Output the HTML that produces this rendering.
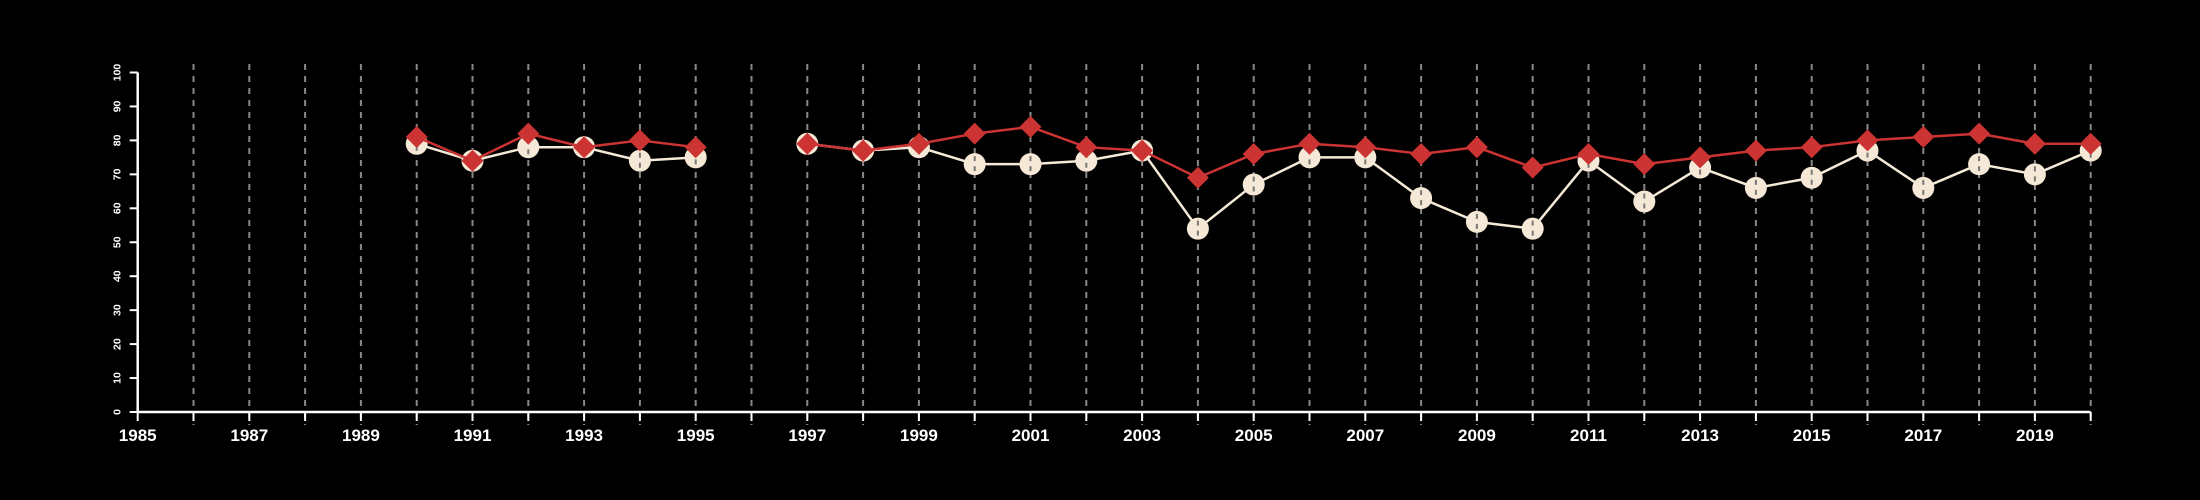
<!DOCTYPE html>
<html><head><meta charset="utf-8"><style>
html,body{margin:0;padding:0;background:#000;}
svg{display:block;font-family:"Liberation Sans",sans-serif;}
</style></head><body>
<svg id="chart" width="2200" height="500" xmlns="http://www.w3.org/2000/svg">
<rect width="2200" height="500" fill="#000"/>
<g id="grid"></g>
<g id="axes"></g>
<g id="series"></g>
</svg>
<script>
const years = [1990,1991,1992,1993,1994,1995,1996,1997,1998,1999,2000,2001,2002,2003,2004,2005,2006,2007,2008,2009,2010,2011,2012,2013,2014,2015,2016,2017,2018,2019,2020];
const whiteSeries = [79,74,78,78,74,75,null,79,77,78,73,73,74,77,54,67,75,75,63,56,54,74,62,72,66,69,77,66,73,70,77];
const redSeries = [81,74,82,78,80,78,null,79,77,79,82,84,78,77,69,76,79,78,76,78,72,76,73,75,77,78,80,81,82,79,79];
const yTicks = [0,10,20,30,40,50,60,70,80,90,100];
const xTickLabels = [1985,1987,1989,1991,1993,1995,1997,1999,2001,2003,2005,2007,2009,2011,2013,2015,2017,2019];

const NS="http://www.w3.org/2000/svg";
const X0=137.7, XPER=55.8, Y0=412, YPER=3.395;
const xs=y=>X0+(y-1985)*XPER;
const ys=v=>Y0-v*YPER;
function mk(tag,attrs,parent){const e=document.createElementNS(NS,tag);for(const k in attrs)e.setAttribute(k,attrs[k]);parent.appendChild(e);return e;}
const grid=document.getElementById('grid'),axes=document.getElementById('axes'),ser=document.getElementById('series');
for(let y=1986;y<=2020;y++){
  const l=mk('line',{x1:xs(y),x2:xs(y),y1:ys(102.5),y2:425,stroke:'#888','stroke-width':2,'stroke-dasharray':'6,6'},grid);
  
  
}
const ya=mk('line',{x1:X0,x2:X0,y1:ys(100),y2:Y0,stroke:'#fff','stroke-width':2.5},axes);


const xa=mk('line',{x1:X0,x2:xs(2020),y1:Y0,y2:Y0,stroke:'#fff','stroke-width':2.5},axes);


yTicks.forEach(v=>{
  mk('line',{x1:X0-8,x2:X0,y1:ys(v),y2:ys(v),stroke:'#fff','stroke-width':2},axes);
  const t=mk('text',{x:0,y:0,fill:'#fff','font-size':10.5,'font-weight':'bold','text-anchor':'middle',transform:`translate(${X0-17},${ys(v)}) rotate(-90)`},axes);
  t.textContent=v;
  
  
});
for(let y=1985;y<=2020;y++){mk('line',{x1:xs(y),x2:xs(y),y1:Y0,y2:Y0+9,stroke:'#fff','stroke-width':2},axes);}
xTickLabels.forEach(y=>{
  const t=mk('text',{x:xs(y),y:441,fill:'#fff','font-size':17,'font-weight':'bold','text-anchor':'middle'},axes);
  t.textContent=y;
  
  
});
function drawLine(vals,color,name){
  let seg=[];const segs=[];
  vals.forEach((v,i)=>{if(v==null){if(seg.length)segs.push(seg);seg=[];}else seg.push(xs(years[i])+','+ys(v));});
  if(seg.length)segs.push(seg);
  segs.forEach(s=>{const p=mk('polyline',{points:s.join(' '),fill:'none',stroke:color,'stroke-width':2.5},ser);
    
    });
}
drawLine(whiteSeries,'#f5ead8','white-series');
whiteSeries.forEach((v,i)=>{if(v==null)return;
  const c=mk('circle',{cx:xs(years[i]),cy:ys(v),r:11,fill:'#f6e8d6'},ser);
  
  
  mk('line',{x1:xs(years[i]),x2:xs(years[i]),y1:ys(v)-8,y2:ys(v)+9,stroke:'#777','stroke-width':2,'stroke-dasharray':'5,5'},ser);
});
drawLine(redSeries,'#cc3333','red-series');
redSeries.forEach((v,i)=>{if(v==null)return;
  const x=xs(years[i]),y=ys(v),d=11;
  const p=mk('polygon',{points:`${x},${y-d} ${x+d},${y} ${x},${y+d} ${x-d},${y}`,fill:'#cc3333'},ser);
  
  
});
</script>
</body></html>
